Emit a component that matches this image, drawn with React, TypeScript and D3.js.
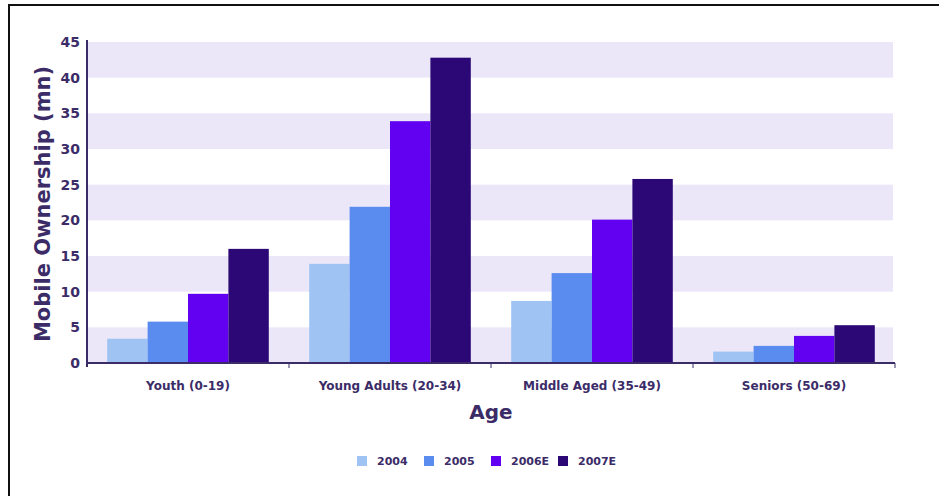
import React from "react";
import * as d3 from "d3";

const categories = ["Youth (0-19)", "Young Adults (20-34)", "Middle Aged (35-49)", "Seniors (50-69)"];
const seriesNames = ["2004", "2005", "2006E", "2007E"];
const v2004 = [3.4, 13.9, 8.7, 1.6];
const v2005 = [5.8, 21.9, 12.6, 2.4];
const v2006 = [9.7, 33.9, 20.1, 3.8];
const v2007 = [16.0, 42.8, 25.8, 5.3];
const yTicks = [0, 5, 10, 15, 20, 25, 30, 35, 40, 45];
const colors = ["#9fc3f3", "#5a8cef", "#6200f2", "#2c0876"];

const W = 939, H = 496;
const M = { left: 87, right: 895, top: 42, bottom: 363 };
const txt = "#3b2c68";

export default function App() {
  const series = [v2004, v2005, v2006, v2007];
  const x0 = d3.scaleBand().domain(categories).range([M.left, M.right]).paddingInner(0).paddingOuter(0);
  const x1 = d3.scaleBand().domain(seriesNames).range([0, x0.bandwidth()]).paddingOuter(0.5).paddingInner(0);
  const y = d3.scaleLinear().domain([0, 45]).range([M.bottom, M.top]);
  const bands = [0, 10, 20, 30, 40];
  const font = "'DejaVu Sans', Verdana, sans-serif";
  return (
    <div style={{ position: "absolute", left: 0, top: 0 }}>
      <svg width={W} height={H} style={{ display: "block", fontFamily: font }}>
        <rect x={0} y={0} width={W} height={H} fill="#fff" />
        <line x1={8} x2={W} y1={5} y2={5} stroke="#111" strokeWidth={2} />
        <line x1={9} x2={9} y1={5} y2={H} stroke="#111" strokeWidth={2} />
        {bands.map((b) => (
          <rect key={b} x={M.left + 1} width={893 - M.left - 1} y={y(b + 5)} height={y(b) - y(b + 5)} fill="#ebe7f9" />
        ))}
        {series.map((vals, si) =>
          categories.map((c, ci) => (
            <rect
              key={si + "-" + ci}
              x={(x0(c) as number) + (x1(seriesNames[si]) as number)}
              width={x1.bandwidth()}
              y={y(vals[ci])}
              height={y(0) - y(vals[ci])}
              fill={colors[si]}
            />
          ))
        )}
        <line x1={M.left} x2={M.left} y1={M.top - 2} y2={M.bottom + 4} stroke={txt} strokeWidth={2} />
        <line x1={M.left} x2={M.right} y1={M.bottom} y2={M.bottom} stroke={txt} strokeWidth={2} />
        {categories.map((c, i) => (
          <line key={"t" + i} x1={(x0(c) as number) + x0.bandwidth()} x2={(x0(c) as number) + x0.bandwidth()} y1={M.bottom} y2={M.bottom + 5} stroke={txt} strokeWidth={1} />
        ))}
        {yTicks.map((t) => (
          <text key={t} x={80} y={y(t)} dy="0.35em" textAnchor="end" fontSize={14} fontWeight="bold" fill={txt}>
            {t}
          </text>
        ))}
        {categories.map((c) => (
          <text key={c} x={(x0(c) as number) + x0.bandwidth() / 2} y={390} textAnchor="middle" fontSize={12} fontWeight="bold" fill={txt}>
            {c}
          </text>
        ))}
        <text x={491} y={419} textAnchor="middle" fontSize={20} fontWeight="bold" fill={txt}>Age</text>
        <text transform={`translate(50,204) rotate(-90)`} textAnchor="middle" fontSize={21} fontWeight="bold" fill={txt}>
          Mobile Ownership (mn)
        </text>
        {seriesNames.map((s, i) => (
          <g key={s} transform={`translate(${357 + i * 67},461)`}>
            <rect x={0} y={-5} width={10} height={10} fill={colors[i]} />
            <text x={20} y={0} dy="0.35em" fontSize={11} fontWeight="bold" fill={txt}>{s}</text>
          </g>
        ))}
      </svg>
    </div>
  );
}
